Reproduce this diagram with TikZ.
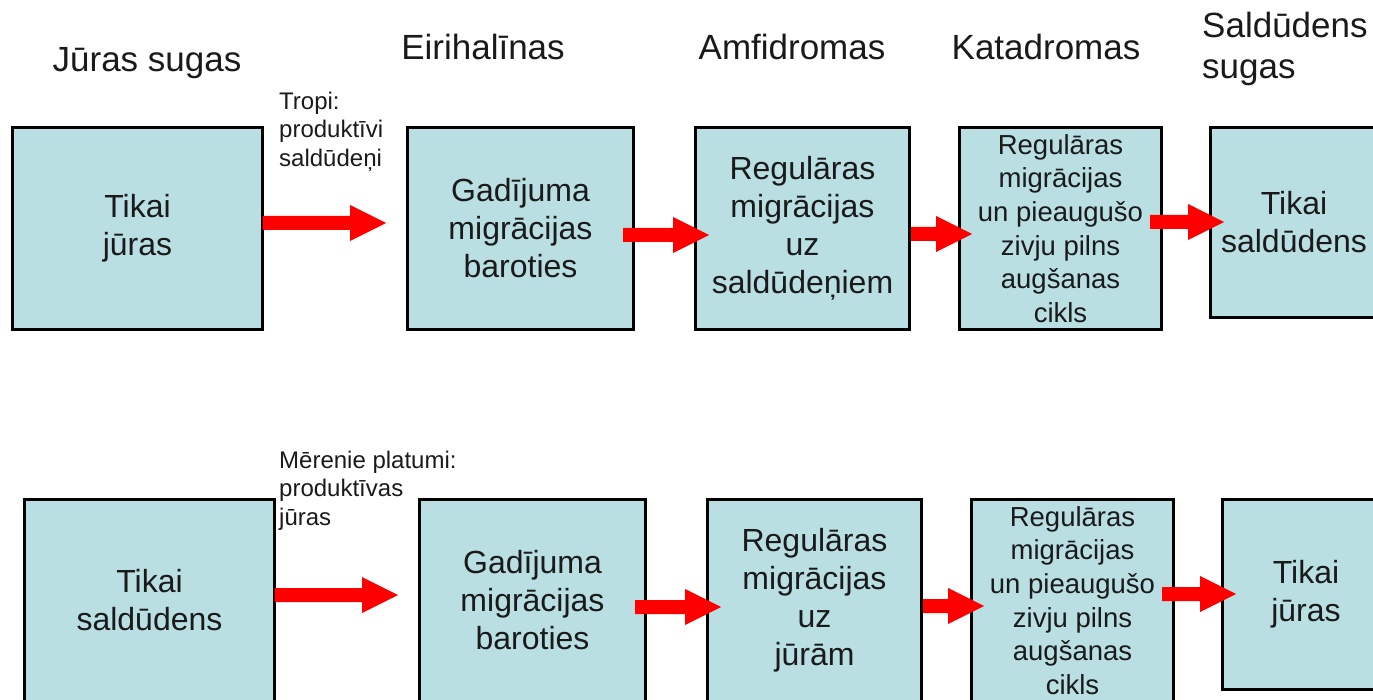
\documentclass[tikz,border=0pt]{standalone}
\usepackage{fontspec}
\setmainfont{Liberation Sans}
\usetikzlibrary{calc}
\definecolor{boxfill}{HTML}{BADFE3}
\definecolor{arrowred}{HTML}{FF0000}
\definecolor{txt}{HTML}{1A1A1A}
\newcommand\redarrow[2]{\fill[arrowred] let \p1=(#1), \p2=(#2) in (\x1,\y1-7pt) -- (\x2-36pt,\y1-7pt) -- (\x2-36pt,\y1-18pt) -- (\x2,\y1) -- (\x2-36pt,\y1+18pt) -- (\x2-36pt,\y1+7pt) -- (\x1,\y1+7pt) -- cycle;}
\tikzset{
 box/.style={draw=black, line width=3pt, fill=boxfill, inner sep=0pt, outer sep=0pt, minimum height=202pt, align=center, text=txt, font=\fontsize{32}{38}\selectfont},
 smallbox/.style={box, font=\fontsize{27.5}{33.6}\selectfont},
 head/.style={anchor=base, text=txt, inner sep=0pt, font=\fontsize{35}{41}\selectfont},
 note/.style={anchor=north west, align=left, inner sep=0pt, text=txt, font=\fontsize{24}{28.5}\selectfont},
}
\begin{document}
\begin{tikzpicture}[x=1pt,y=-1pt]
\useasboundingbox (0,0) rectangle (1373,700);
\clip (0,0) rectangle (1373,700);
% headers
\node[head] (h1) at (147,72) {Jūras sugas};
\node[head] (h2) at (483,60) {Eirihalīnas};
\node[head] (h3) at (792,60) {Amfidromas};
\node[head] (h4) at (1046,60) {Katadromas};
\node[head, anchor=north west, align=left] (h5) at (1202,10.75) {\rule{0pt}{0.75em}Saldūdens\\sugas};
% top row
\node[box, minimum width=250pt] (t1) at (137.5,228.5) {Tikai\\jūras};
\node[box, minimum width=226pt] (t2) at (520.5,228.5) {Gadījuma\\migrācijas\\baroties};
\node[box, minimum width=214pt] (t3) at (802.5,228.5) {Regulāras\\migrācijas\\uz\\saldūdeņiem};
\node[smallbox, minimum width=202pt] (t4) at (1060.5,228.5) {Regulāras\\migrācijas\\un pieaugušo\\zivju pilns\\augšanas\\cikls};
\node[box, minimum width=167pt, minimum height=190pt] (t5) at (1294,222.5) {Tikai\\saldūdens};
\redarrow{[yshift=5.5pt]t1.east}{[xshift=-21.5pt]t2.west}
\redarrow{[xshift=-10.5pt,yshift=-6.5pt]t2.east}{[xshift=13.5pt]t3.west}
\redarrow{[xshift=1.5pt,yshift=-5.5pt]t3.east}{[xshift=12.5pt]t4.west}
\redarrow{[xshift=-11.5pt,yshift=6.5pt]t4.east}{[xshift=13.5pt]t5.west}
% bottom row
\node[box, minimum width=250pt] (b1) at (149.5,600.5) {Tikai\\saldūdens};
\node[box, minimum width=226pt] (b2) at (532.5,600.5) {Gadījuma\\migrācijas\\baroties};
\node[box, minimum width=214pt] (b3) at (814.5,600.5) {Regulāras\\migrācijas\\uz\\jūrām};
\node[smallbox, minimum width=202pt] (b4) at (1072.5,600.5) {Regulāras\\migrācijas\\un pieaugušo\\zivju pilns\\augšanas\\cikls};
\node[box, minimum width=167pt, minimum height=190pt] (b5) at (1306,594.5) {Tikai\\jūras};
\redarrow{[yshift=5.5pt]b1.east}{[xshift=-21.5pt]b2.west}
\redarrow{[xshift=-10.5pt,yshift=-6.5pt]b2.east}{[xshift=13.5pt]b3.west}
\redarrow{[xshift=1.5pt,yshift=-5.5pt]b3.east}{[xshift=12.5pt]b4.west}
\redarrow{[xshift=-11.5pt,yshift=6.5pt]b4.east}{[xshift=13.5pt]b5.west}
% notes
\node[note] (n1) at (279,91) {\rule{0pt}{0.75em}Tropi:\\produktīvi\\saldūdeņi};
\node[note] (n2) at (279,450) {\rule{0pt}{0.75em}Mērenie platumi:\\produktīvas\\jūras};
\end{tikzpicture}
\end{document}
